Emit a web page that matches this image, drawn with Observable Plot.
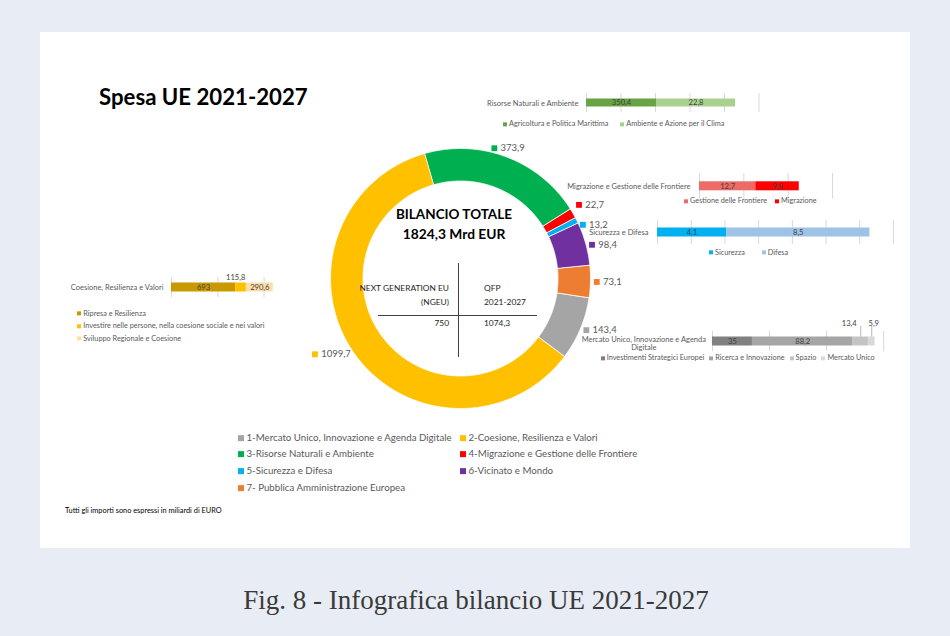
<!DOCTYPE html>
<html lang="it">
<head>
<meta charset="utf-8">
<title>Spesa UE 2021-2027</title>
<script src="https://cdn.jsdelivr.net/npm/d3@7"></script>
<script src="https://cdn.jsdelivr.net/npm/@observablehq/plot@0.6"></script>
<style>
html,body{margin:0;padding:0;}
body{width:950px;height:636px;overflow:hidden;background:#e8ecf4;font-family:Lato,"Open Sans",sans-serif;position:relative;}
#panel{position:absolute;left:40px;top:32px;width:870px;height:516px;background:#fff;}
.t{position:absolute;white-space:nowrap;line-height:1;}
.abs{position:absolute;}
.abs svg{overflow:visible;}
.lg{position:absolute;display:flex;align-items:center;white-space:nowrap;line-height:1;transform:translateY(-50%);color:#595959;}
.lg .it{display:flex;align-items:center;}
.lg .sq{display:inline-block;flex:none;}
.ln{position:absolute;background:#404040;}
</style>
</head>
<body>
<div id="panel"></div>
<script>
// ================= DATA =================
const sectorNames = [
  "1-Mercato Unico, Innovazione e Agenda Digitale",
  "2-Coesione, Resilienza e Valori",
  "3-Risorse Naturali e Ambiente",
  "4-Migrazione e Gestione delle Frontiere",
  "5-Sicurezza e Difesa",
  "6-Vicinato e Mondo",
  "7- Pubblica Amministrazione Europea"
];
const sectorValues = [143.4, 1099.7, 373.9, 22.7, 13.2, 98.4, 73.1];
const sectorColors = ["#a5a5a5", "#ffc000", "#00b050", "#ff0000", "#00b0f0", "#7030a0", "#ed7d31"];
const ringOrder = [2, 3, 4, 5, 6, 0, 1]; // clockwise from the top

const chartTitle = "Spesa UE 2021-2027";
const totalTitle = "BILANCIO TOTALE";
const totalValue = 1824.3;
const ngeuLabel = ["NEXT GENERATION EU", "(NGEU)"];
const ngeuValue = 750;
const qfpLabel = ["QFP", "2021-2027"];
const qfpValue = 1074.3;
const footnote = "Tutti gli importi sono espressi in miliardi di EURO";
const caption = "Fig. 8 - Infografica bilancio UE 2021-2027";

const risorseName = "Risorse Naturali e Ambiente";
const risorseKeys = ["Agricoltura e Politica Marittima", "Ambiente e Azione per il Clima"];
const risorseValues = [350.4, 22.8];   // printed labels
const risorseDrawn = [203, 229];       // bar lengths as drawn in the reference (grid step 100)
const risorseColors = ["#68a443", "#a9d18e"];
const risorseTicks = [0, 100, 200, 300, 400, 500];

const migrName = "Migrazione e Gestione delle Frontiere";
const migrKeys = ["Gestione delle Frontiere", "Migrazione"];
const migrValues = [12.7, 9.8];
const migrColors = ["#ec6b66", "#ff0000"];
const migrTicks = [0, 10, 20, 30];

const sicName = "Sicurezza e Difesa";
const sicKeys = ["Sicurezza", "Difesa"];
const sicValues = [4.1, 8.5];
const sicColors = ["#00b0f0", "#9dc3e6"];
const sicTicks = [0, 2, 4, 6, 8, 10, 12, 14];

const coesName = "Coesione, Resilienza e Valori";
const coesKeys = ["Ripresa e Resilienza", "Investire nelle persone, nella coesione sociale e nei valori", "Sviluppo Regionale e Coesione"];
const coesValues = [693, 115.8, 290.6];
const coesColors = ["#c99a00", "#ffc000", "#fedfab"];
const coesTicks = [0, 500, 1000];

const mercName = "Mercato Unico, Innovazione e Agenda\nDigitale";
const mercKeys = ["Investimenti Strategici Europei", "Ricerca e Innovazione", "Spazio", "Mercato Unico"];
const mercValues = [35, 88.2, 13.4, 5.9];
const mercColors = ["#808080", "#a5a5a5", "#c4c4c4", "#d9d9d9"];
const mercTicks = [0, 50, 100, 150];

// ================= HELPERS =================
const fmt = v => String(v).replace(".", ",");
function place(txt, x, y, style = {}, anchor = "start") {
  const d = document.createElement("div");
  d.className = "t";
  d.textContent = txt;
  d.style.left = x + "px";
  d.style.top = y + "px";
  const tx = anchor === "middle" ? "-50%" : anchor === "end" ? "-100%" : "0";
  d.style.transform = `translate(${tx},-50%)`;
  Object.assign(d.style, style);
  document.body.append(d);
  return d;
}
function hline(x, y, w) { const d = document.createElement("div"); d.className = "ln"; Object.assign(d.style, {left: x + "px", top: y + "px", width: w + "px", height: "1px"}); document.body.append(d); }
function vline(x, y, h) { const d = document.createElement("div"); d.className = "ln"; Object.assign(d.style, {left: x + "px", top: y + "px", width: "1px", height: h + "px"}); document.body.append(d); }

function legend(keys, colors, x, y, o = {}) {
  const {gap = 10, size = 4, font = 7.3, vertical = false, rowH = 12.5, color = "#595959", sqGap = 2} = o;
  let box;
  keys.forEach((k, i) => {
    if (vertical || i === 0) {
      box = document.createElement("div");
      box.className = "lg";
      box.style.left = x + "px";
      box.style.top = (y + (vertical ? i * rowH : 0)) + "px";
      box.style.fontSize = font + "px";
      box.style.color = color;
      box.style.gap = gap + "px";
      document.body.append(box);
    }
    const it = document.createElement("span");
    it.className = "it";
    const sq = document.createElement("span");
    sq.className = "sq";
    Object.assign(sq.style, {width: size + "px", height: size + "px", background: colors[i], marginRight: sqGap + "px"});
    it.append(sq, document.createTextNode(k));
    box.append(it);
  });
}

// ================= DONUT =================
const rad = Math.PI / 180;
const cx = 460, cy = 278, R1 = 130, R0 = 97.5;
const ringData = ringOrder.map(i => ({name: sectorNames[i], value: sectorValues[i]}));
const arcs = d3.pie().sort(null).value(d => d.value).startAngle(-16 * rad).endAngle(344 * rad)(ringData);

function ringPts(a) {
  const n = Math.max(2, Math.ceil((a.endAngle - a.startAngle) / rad * 2));
  const pts = [];
  for (let k = 0; k <= n; k++) {
    const t = a.startAngle + (a.endAngle - a.startAngle) * k / n;
    pts.push({name: a.data.name, x: R1 * Math.sin(t), y: -R1 * Math.cos(t)});
  }
  for (let k = n; k >= 0; k--) {
    const t = a.startAngle + (a.endAngle - a.startAngle) * k / n;
    pts.push({name: a.data.name, x: R0 * Math.sin(t), y: -R0 * Math.cos(t)});
  }
  return pts;
}

const smooth = (v, a, b) => { const t = Math.min(1, Math.max(0, (v - a) / (b - a))); return t * t * (3 - 2 * t); };
const labelFont = 9.5;
const labels = arcs.map(a => {
  const m = (a.startAngle + a.endAngle) / 2, s = Math.sin(m), c = Math.cos(m);
  const txt = fmt(a.data.value);
  const tw = [...txt].reduce((acc, ch) => acc + (ch === "," ? 0.23 : 0.58) * labelFont, 0);
  const w = 9.5 + tw, h = 12, Ra = R1 + 3;
  const xo = Math.sign(s) * smooth(Math.abs(s), 0.4, 0.8) * w / 2;
  const yo = -Math.sign(c) * smooth(Math.abs(c), 0.5, 0.9) * h / 2;
  return {name: a.data.name, txt, s, w, cx: Ra * s + xo, cy: -Ra * c + yo};
});
// separate crowded labels on the right side
const right = labels.filter(d => d.s > 0).sort((a, b) => a.cy - b.cy);
for (let pass = 0; pass < 3; pass++) {
  for (let i = 1; i < right.length; i++) {
    const gap = right[i].cy - right[i - 1].cy;
    if (gap < 20) { const d = (20 - gap) / 2; right[i - 1].cy -= d; right[i].cy += d; }
  }
}
labels.forEach(d => { d.sx = d.cx - d.w / 2 + 3.3; d.tx = d.cx - d.w / 2 + 9.5; d.sy = d.cy; d.ty = d.cy; });

const donut = Plot.plot({
  width: 950, height: 636, margin: 0,
  x: {domain: [-cx, 950 - cx], range: [0, 950], axis: null},
  y: {domain: [-cy, 636 - cy], range: [0, 636], axis: null},
  color: {domain: sectorNames, range: sectorColors},
  style: {background: "transparent", fontFamily: "Lato, sans-serif", overflow: "visible"},
  marks: [
    ...arcs.map(a => Plot.line(ringPts(a), {x: "x", y: "y", fill: "name", stroke: "#ffffff", strokeWidth: 0.8, curve: "linear-closed"})),
    Plot.dot(labels, {x: "sx", y: "sy", fill: "name", symbol: "square", r: 3.3}),
    Plot.text(labels, {x: "tx", y: "ty", text: "txt", textAnchor: "start", fill: "#595959", fontSize: labelFont})
  ]
});
const dwrap = document.createElement("div");
dwrap.className = "abs"; dwrap.style.left = "0px"; dwrap.style.top = "0px";
dwrap.append(donut);
document.body.append(dwrap);

// ================= SMALL STACKED BARS =================
function barChart(o) {
  const drawn = o.drawn ?? o.values;
  const cum = d3.cumsum(drawn);
  const rows = o.keys.map((k, i) => ({key: k, x1: cum[i] - drawn[i], x2: cum[i], mid: cum[i] - drawn[i] / 2, label: fmt(o.values[i]), i}));
  const padL = 150, padR = 40, padT = 24, padB = 22;
  const left = o.x0 - padL, top = o.gridTop - padT;
  const frameH = o.gridBottom - o.gridTop;
  const inset = (frameH - o.barH) / 2;
  const W = padL + (o.x1 - o.x0) + padR, H = padT + frameH + padB;
  const out = o.outside ?? [];
  const inside = rows.filter(d => !out.includes(d.i));
  const marks = [
    Plot.ruleX(o.ticks, {stroke: "#d9d9d9", strokeWidth: 1}),
    Plot.barX(rows, {x1: "x1", x2: "x2", fill: "key", insetTop: inset, insetBottom: inset}),
    Plot.text(inside, {x: "mid", text: "label", fill: "#404040", fontSize: 7.6}),
    Plot.text([o.name], {text: d => d, frameAnchor: "left", textAnchor: o.nameAnchor ?? "end", dx: o.nameDx, dy: o.nameDy ?? 0, fill: "#595959", fontSize: 7.5, lineHeight: 1.08})
  ];
  if (o.outsideMarks) marks.push(...o.outsideMarks(rows.filter(d => out.includes(d.i)), frameH, inset));
  const svg = Plot.plot({
    width: W, height: H,
    marginLeft: padL, marginRight: padR, marginTop: padT, marginBottom: padB,
    x: {domain: [o.ticks[0], o.ticks[o.ticks.length - 1]], axis: null},
    color: {domain: o.keys, range: o.colors},
    style: {background: "transparent", fontFamily: "Lato, sans-serif", overflow: "visible"},
    marks
  });
  const div = document.createElement("div");
  div.className = "abs"; div.style.left = left + "px"; div.style.top = top + "px";
  div.append(svg);
  document.body.append(div);
}

barChart({name: risorseName, keys: risorseKeys, values: risorseValues, drawn: risorseDrawn, colors: risorseColors, ticks: risorseTicks,
  x0: 586, x1: 758.5, gridTop: 93, gridBottom: 112, barH: 8, nameDx: -8});
barChart({name: migrName, keys: migrKeys, values: migrValues, colors: migrColors, ticks: migrTicks,
  x0: 699, x1: 832, gridTop: 172.7, gridBottom: 198.3, barH: 9, nameDx: -9});
barChart({name: sicName, keys: sicKeys, values: sicValues, colors: sicColors, ticks: sicTicks,
  x0: 657, x1: 893, gridTop: 220, gridBottom: 244, barH: 9, nameDx: -9});
barChart({name: coesName, keys: coesKeys, values: coesValues, colors: coesColors, ticks: coesTicks,
  x0: 171, x1: 263.6, gridTop: 277, gridBottom: 297, barH: 9, nameDx: -8, outside: [1],
  outsideMarks: (rs) => [Plot.text(rs, {x: "x2", text: "label", frameAnchor: "top", textAnchor: "end", dx: -1, dy: -2.5, fill: "#404040", fontSize: 7.6})]});
barChart({name: mercName, keys: mercKeys, values: mercValues, colors: mercColors, ticks: mercTicks,
  x0: 711.7, x1: 882.9, gridTop: 331, gridBottom: 351, barH: 9, nameDx: -68.7, nameAnchor: "middle", nameDy: 2.3, outside: [2, 3],
  outsideMarks: (rs, frameH, inset) => [
    Plot.tickX(rs, {x: "mid", insetTop: -5, insetBottom: frameH - inset, stroke: "#a6a6a6", strokeWidth: 0.8}),
    Plot.text(rs.filter(d => d.i === 2), {x: "mid", text: "label", frameAnchor: "top", textAnchor: "end", dx: -4, dy: -11, fill: "#404040", fontSize: 7.6}),
    Plot.text(rs.filter(d => d.i === 3), {x: "mid", text: "label", frameAnchor: "top", textAnchor: "middle", dx: 2, dy: -11, fill: "#404040", fontSize: 7.6})
  ]});

// ================= LEGENDS =================
legend(risorseKeys, risorseColors, 503, 124, {gap: 12});
legend(migrKeys, migrColors, 684, 201, {gap: 8});
legend(sicKeys, sicColors, 709, 252.7, {gap: 17});
legend(coesKeys, coesColors, 77.3, 313.5, {vertical: true, rowH: 12.5});
legend(mercKeys, mercColors, 600.7, 358.3, {gap: 5});

// main legend (two columns)
sectorNames.forEach((n, i) => {
  const col = i % 2, row = Math.floor(i / 2);
  const box = document.createElement("div");
  box.className = "lg";
  box.style.left = (col ? 460 : 238) + "px";
  box.style.top = (437.7 + row * 16.7) + "px";
  box.style.fontSize = "9.7px";
  const sq = document.createElement("span");
  sq.className = "sq";
  Object.assign(sq.style, {width: "6px", height: "6px", background: sectorColors[i], marginRight: "2.5px"});
  box.append(sq, document.createTextNode(n));
  document.body.append(box);
});

// ================= TEXTS =================
place(chartTitle, 99, 97, {fontWeight: "700", fontSize: "22.2px", color: "#000"});
place(totalTitle, 454, 215, {fontWeight: "700", fontSize: "13.5px", color: "#000"}, "middle");
place(fmt(totalValue) + " Mrd EUR", 454, 234, {fontWeight: "700", fontSize: "13.8px", color: "#000"}, "middle");
const tblStyle = {fontSize: "8.4px", color: "#262626"};
place(ngeuLabel[0], 449, 288, tblStyle, "end");
place(ngeuLabel[1], 449, 302, tblStyle, "end");
place(fmt(ngeuValue), 449, 323, tblStyle, "end");
place(qfpLabel[0], 484, 288, tblStyle, "start");
place(qfpLabel[1], 484, 302, tblStyle, "start");
place(fmt(qfpValue), 484, 323, tblStyle, "start");
vline(458, 263, 94);
hline(378, 315, 159);
place(footnote, 65, 510.7, {fontSize: "7.35px", color: "#000"});
place(caption, 476, 600, {fontFamily: "'Liberation Serif', 'DejaVu Serif', serif", fontSize: "27px", color: "#3a3a3a"}, "middle");
</script>
</body>
</html>
